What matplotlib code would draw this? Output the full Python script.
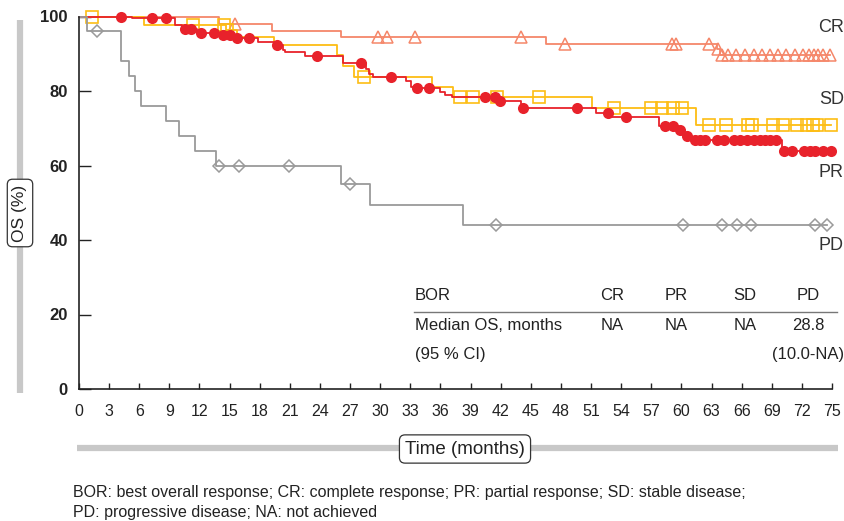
import numpy as np
import matplotlib.pyplot as plt
from matplotlib.lines import Line2D

plt.rcParams['font.family'] = ['Liberation Sans', 'DejaVu Sans']

W, H = 845, 521

# Kaplan-Meier steps (time of drop, OS after drop) and censor times
cr_times = [0, 13.9, 19.2, 26.1, 46.5, 63.5, 63.8]
cr_surv = [100, 98.1, 96.2, 94.5, 92.5, 91.3, 89.7]
cr_cens = [15.5, 29.8, 30.7, 33.5, 44.0, 48.4, 59.1, 59.5, 62.7, 63.6,
           64.0, 64.6, 65.4, 66.3, 67.2, 68.0, 68.8, 69.6, 70.4, 71.3,
           72.1, 72.7, 73.2, 73.6, 74.1, 74.8]

pr_times = [0, 5.3, 9.6, 10.3, 11.8, 14.0, 15.4, 17.8, 19.4, 20.3, 20.5,
            22.5, 26.3, 28.6, 28.9, 29.3, 32.6, 33.1, 33.5, 36.0, 36.5,
            37.2, 41.7, 44.0, 51.5, 53.1, 57.8, 59.7, 60.3, 61.0, 70.0]
pr_surv = [100, 99.5, 97.6, 96.6, 95.7, 95.0, 94.1, 93.2, 92.4, 91.1, 90.4,
           89.4, 87.6, 86.0, 84.6, 83.8, 82.7, 81.2, 80.7, 79.7, 78.8,
           78.3, 77.3, 75.5, 74.0, 73.0, 70.7, 69.5, 68.0, 66.9, 63.8]
pr_cens = [4.15, 7.3, 8.7, 10.56, 11.16, 12.15, 13.45, 14.3, 15.0, 15.7,
           16.9, 19.7, 23.7, 28.1, 31.1, 33.7, 34.9, 40.4, 41.4, 41.9, 44.2,
           49.6, 52.7, 54.5, 58.4, 59.2, 59.9, 60.6, 61.4, 61.9, 62.4, 63.5,
           64.2, 65.2, 65.8, 66.5, 67.2, 67.8, 68.3, 68.8, 69.4, 70.2, 71.0,
           72.2, 72.8, 73.3, 74.1, 74.9]

sd_times = [0, 6.5, 14.6, 15.7, 19.4, 25.7, 26.3, 27.4, 35.2, 37.3, 51.1, 61.5]
sd_surv = [100, 97.8, 96.3, 94.6, 92.3, 89.7, 86.8, 83.7, 81.0, 78.3, 75.4, 71.0]
sd_cens = [1.26, 11.4, 14.4, 14.7, 28.4, 37.9, 39.2, 41.6, 45.8, 53.3, 57.0,
           58.1, 59.2, 60.1, 62.7, 64.4, 66.6, 67.0, 69.1, 70.1, 71.5, 72.5,
           73.1, 73.5, 74.9]

pd_times = [0, 0.8, 4.15, 5.0, 5.6, 6.2, 8.7, 10.0, 11.6, 13.6, 26.1, 29.0, 38.2]
pd_surv = [100, 96, 88, 84, 80, 76, 72, 68, 64, 60, 55, 49.5, 44]
pd_cens = [1.76, 13.9, 15.9, 20.9, 27.0, 41.5, 60.2, 64.0, 65.5, 66.9, 73.3, 74.5]

groups = ['CR', 'PR', 'SD', 'PD']
table_rows = [['BOR', 'CR', 'PR', 'SD', 'PD'],
              ['Median OS, months', 'NA', 'NA', 'NA', '28.8'],
              ['(95 % CI)', '', '', '', '(10.0-NA)']]
x_ticks = list(range(0, 76, 3))
y_ticks = [0, 20, 40, 60, 80, 100]


def level_at(times, surv, t):
    idx = np.searchsorted(times, t, side='right') - 1
    return np.asarray(surv)[idx]


def fxy(x, y):
    return x / W, 1 - y / H


fig = plt.figure(figsize=(W / 100, H / 100), dpi=100)
ax = fig.add_axes([79 / W, 1 - 389 / H, (832 - 79) / W, (389 - 16.5) / H])

styles = [
    (cr_times, cr_surv, cr_cens, '#F5876A', dict(marker='^', ms=8, mfc='none', mew=1.1)),
    (sd_times, sd_surv, sd_cens, '#FDBD14', dict(marker='s', ms=8.5, mfc='none', mew=1.2)),
    (pr_times, pr_surv, pr_cens, '#E8222B', dict(marker='o', ms=8, mew=0)),
    (pd_times, pd_surv, pd_cens, '#9A9A9A', dict(marker='D', ms=6.5, mfc='none', mew=1.1)),
]

for times, surv, cens, col, mk in styles:
    end = max(cens)
    ax.step(list(times) + [end], list(surv) + [surv[-1]], where='post',
            color=col, lw=1.3, clip_on=False)
    ax.plot(cens, level_at(times, surv, cens), ls='none', color=col,
            clip_on=False, **mk)

ax.set_xlim(0, 75)
ax.set_ylim(0, 100)
ax.set_xticks(x_ticks)
ax.set_yticks(y_ticks)
ax.spines['top'].set_visible(False)
ax.spines['right'].set_visible(False)
for sp in ['left', 'bottom']:
    ax.spines[sp].set_color('#222222')
    ax.spines[sp].set_linewidth(1.2)
ax.tick_params(axis='y', direction='in', length=8.5, width=1, pad=8,
               labelsize=12, colors='#222222')
ax.tick_params(axis='x', direction='in', length=4.5, width=1, pad=11,
               labelsize=11.5, colors='#222222')
for lab in ax.get_yticklabels():
    lab.set_fontweight('bold')

# curve labels
for g, yy in zip(['CR', 'SD', 'PR', 'PD'], [28, 100, 172, 245]):
    fig.text(*fxy(844, yy), g, ha='right', va='center', fontsize=13, color='#333333')

# table
col_x = [415, 612, 676, 745, 808]
row_y = [296, 325, 354]
for r, row in enumerate(table_rows):
    for c, txt in enumerate(row):
        fig.text(*fxy(col_x[c], row_y[r]), txt, ha='left' if c == 0 else 'center',
                 va='center', fontsize=12, color='#222222')
fig.add_artist(Line2D([414 / W, 837 / W], [1 - 312 / H, 1 - 312 / H],
                      color='#777777', lw=1))

# axis label bars and boxes
fig.add_artist(Line2D([19.5 / W, 19.5 / W], [1 - 20 / H, 1 - 393 / H],
                      color='#C8C8C8', lw=4.5, solid_capstyle='butt'))
fig.add_artist(Line2D([77 / W, 838 / W], [1 - 448 / H, 1 - 448 / H],
                      color='#C8C8C8', lw=4.5, solid_capstyle='butt'))
fig.text(*fxy(20, 213), 'OS (%)', rotation=90, ha='center', va='center',
         fontsize=12.5, color='#222222',
         bbox=dict(boxstyle='round,pad=0.3,rounding_size=0.3', fc='white',
                   ec='#333333', lw=0.9))
fig.text(*fxy(465, 449), 'Time (months)', ha='center', va='center',
         fontsize=13.5, color='#222222',
         bbox=dict(boxstyle='round,pad=0.3,rounding_size=0.3', fc='white',
                   ec='#333333', lw=0.9))

# footnote
fig.text(*fxy(73, 493), 'BOR: best overall response; CR: complete response; '
         'PR: partial response; SD: stable disease;', ha='left', va='center',
         fontsize=11.5, color='#222222')
fig.text(*fxy(73, 512), 'PD: progressive disease; NA: not achieved',
         ha='left', va='center', fontsize=11.5, color='#222222')

fig.savefig('out.png', dpi=100)
